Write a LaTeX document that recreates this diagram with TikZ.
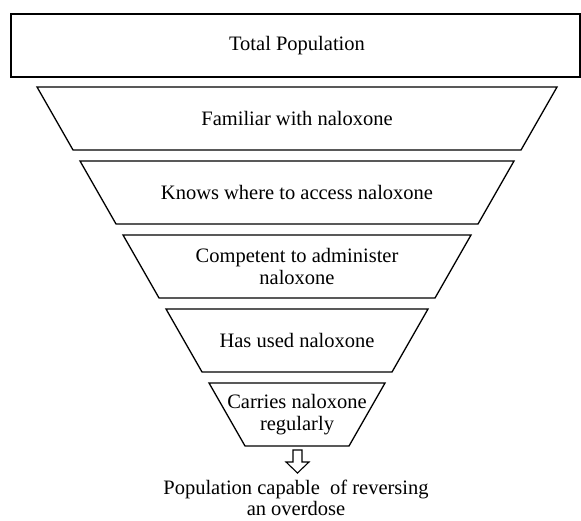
\documentclass[tikz,border=0pt]{standalone}
\usepackage{fontspec}
\setmainfont{Liberation Serif}
\usepackage{tikz}

\tikzset{
	box/.style={draw, line width=1.3pt},
	lbl/.style={align=center, font=\fontsize{20.5}{22.5}\selectfont, inner sep=0pt},
}

\begin{document}
\begin{tikzpicture}[x=1pt, y=-1pt]
	\useasboundingbox (0,0) rectangle (581,521);
	
	\node[lbl] (t) at (297,45.5) {Total Population};
	\draw[box] (11,14) rectangle (580,77);
	
	\foreach \i/\txt in {1/{Familiar with naloxone}, 2/{Knows where to access naloxone}, 3/{Competent to administer\\naloxone}, 4/{Has used naloxone}, 5/{Carries naloxone\\regularly}} {
		\pgfmathsetmacro{\yt}{87+74*(\i-1)}
		\pgfmathsetmacro{\hw}{260-43*(\i-1)}
		\node[lbl] (s\i) at (297,\yt+31.5) {\txt};
		\draw[box] (297-\hw,\yt) -- (297+\hw,\yt) -- (297+\hw-36,\yt+63) -- (297-\hw+36,\yt+63) -- cycle;
	}
	
	\node[lbl, font=\fontsize{20.5}{21}\selectfont] (p) at (296,498) {Population capable\ \ of reversing\\an overdose};
	
	\coordinate (a) at (297.5,450);
	\draw[line width=1.1pt] (a) ++(-4.5,0) -- ++(9,0) -- ++(0,12) -- ++(7,0) -- ++(-11.5,11) -- ++(-11.5,-11) -- ++(7,0) -- cycle;
\end{tikzpicture}
\end{document}
